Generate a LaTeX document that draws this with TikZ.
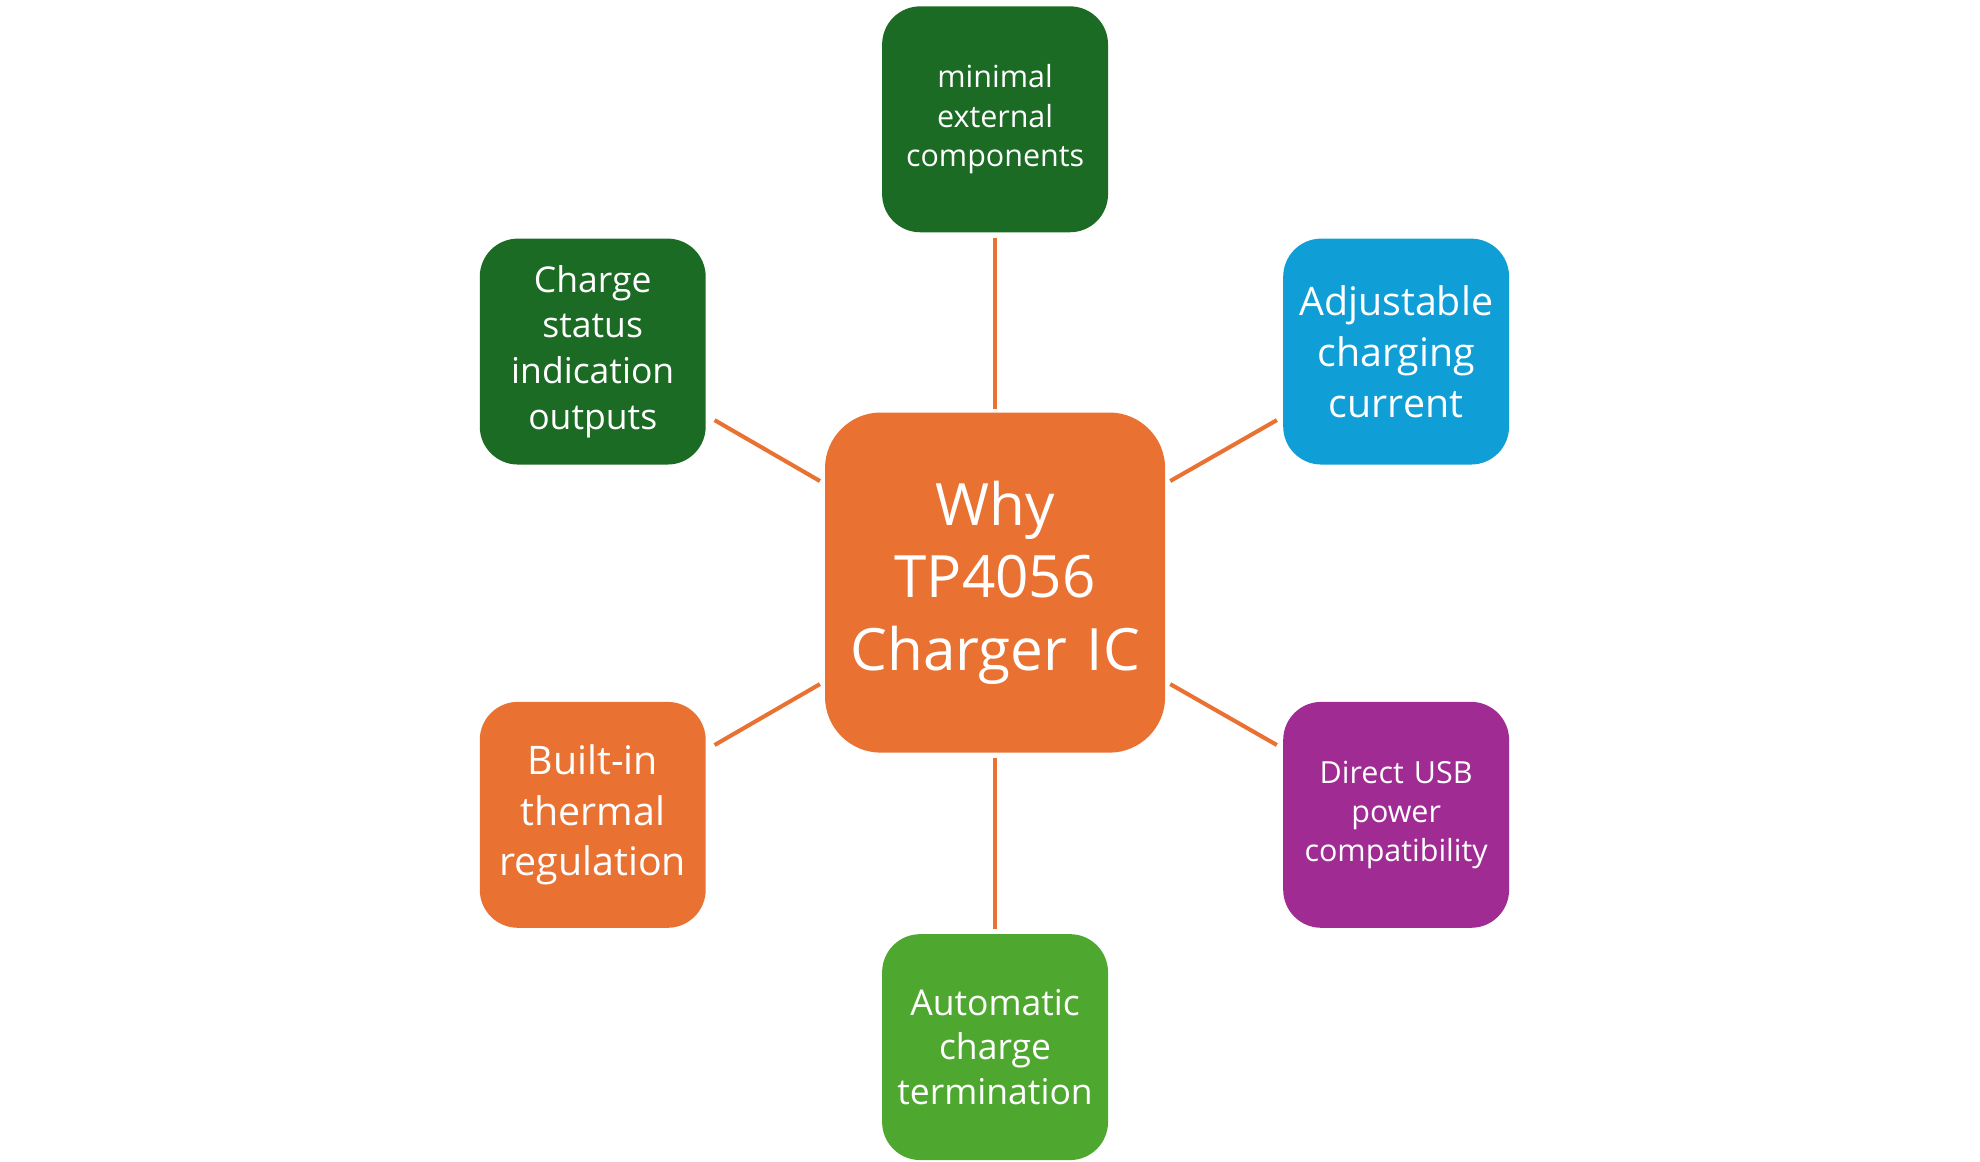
\documentclass[tikz,border=0pt]{standalone}
\usepackage{fontspec}
\setmainfont{Open Sans}
\definecolor{dgreen}{HTML}{1B6B24}
\definecolor{orng}{HTML}{E97132}
\definecolor{blu}{HTML}{0F9ED5}
\definecolor{purp}{HTML}{A02B93}
\definecolor{lgreen}{HTML}{4EA72E}
\begin{document}
\begin{tikzpicture}[x=0.5pt,y=-0.5pt,
  box/.style={rounded corners=15pt,minimum width=89pt,minimum height=89pt,text width=85pt,align=center,text=white,inner sep=0pt},
  link/.style={draw=orng,line width=1.6pt}]
\useasboundingbox (0,0) rectangle (1560,915);
\node[box,fill=orng,minimum width=134pt,minimum height=134pt,text width=130pt,rounded corners=22pt,font=\fontsize{23}{28.5}\selectfont] (c) at (784,459) {Why\\TP4056\\Charger IC};
\node[box,fill=dgreen,font=\fontsize{12}{15.5}\selectfont] (t) at (784,94) {minimal\\external\\components};
\node[box,fill=dgreen,font=\fontsize{14}{18}\selectfont] (ul) at (467,277) {Charge\\status\\indication\\outputs};
\node[box,fill=blu,font=\fontsize{15.5}{20}\selectfont] (ur) at (1100,277) {Adjustable\\charging\\current};
\node[box,fill=orng,font=\fontsize{15.5}{20}\selectfont] (ll) at (467,642) {Built-in\\thermal\\regulation};
\node[box,fill=purp,font=\fontsize{12}{15.5}\selectfont] (lr) at (1100,642) {Direct USB\\power\\compatibility};
\node[box,fill=lgreen,font=\fontsize{14}{17.5}\selectfont] (b) at (784,825) {Automatic\\charge\\termination};
\coordinate (p1) at (563,331); \coordinate (q1) at (646,379);
\coordinate (p2) at (1006,331); \coordinate (q2) at (922,379);
\coordinate (p3) at (563,587); \coordinate (q3) at (646,539);
\coordinate (p4) at (1006,587); \coordinate (q4) at (922,539);
\draw[link] (t.south) ++(0,4) coordinate (ts) -- (c.north |- 0,322) coordinate (cn);
\draw[link] (b.north) ++(0,-4) coordinate (bn) -- (c.south |- 0,597) coordinate (cs);
\draw[link] (p1) -- (q1);
\draw[link] (p2) -- (q2);
\draw[link] (p3) -- (q3);
\draw[link] (p4) -- (q4);
\end{tikzpicture}
\end{document}
